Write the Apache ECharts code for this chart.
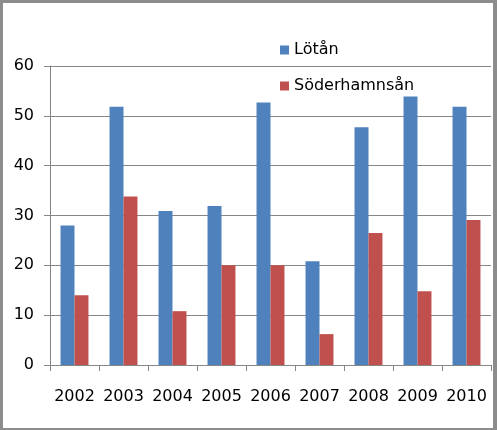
<!DOCTYPE html>
<html>
<head>
<meta charset="utf-8">
<script src="https://cdn.jsdelivr.net/npm/echarts@6/dist/echarts.min.js"></script>
<style>
  html, body { margin: 0; padding: 0; background: #fff; }
  #wrap { position: relative; width: 497px; height: 430px; }
  #chart { position: absolute; left: 0; top: 0; width: 497px; height: 430px; }
  #frame {
    position: absolute; left: 0; top: 0; width: 497px; height: 430px;
    box-sizing: border-box; pointer-events: none;
    border-style: solid; border-color: #8c8c8c;
    border-width: 3px 4px 2px 3px;
  }
</style>
</head>
<body>
<div id="wrap">
  <div id="chart"></div>
  <div id="frame"></div>
</div>
<script>
// år och värden
var years = ['2002', '2003', '2004', '2005', '2006', '2007', '2008', '2009', '2010'];
var lotan = [28, 51.8, 30.9, 31.9, 52.7, 20.8, 47.7, 53.9, 51.8];
var soderhamnsan = [14, 33.8, 10.8, 20, 20, 6.2, 26.5, 14.8, 29.1];
var seriesNames = ['Lötån', 'Söderhamnsån'];

var gray = '#868686';
var font = 'DejaVu Sans';

var myChart = echarts.init(document.getElementById('chart'));
var option = {
    animation: false,
    color: ['#4F81BD', '#C0504D'],
    grid: {
        left: 50,
        right: 6,
        top: 66,
        bottom: 65
    },
    legend: {
        data: seriesNames,
        orient: 'vertical',
        left: 280,
        top: 41,
        padding: 0,
        icon: 'rect',
        itemWidth: 9,
        itemHeight: 9,
        itemGap: 18,
        textStyle: {
            fontFamily: font,
            fontSize: 16,
            color: '#000',
            lineHeight: 18
        }
    },
    xAxis: {
        type: 'category',
        data: years,
        axisLine: { lineStyle: { color: gray, width: 1 } },
        axisTick: { show: true, length: 6, lineStyle: { color: gray } },
        axisLabel: {
            interval: 0,
            fontFamily: font,
            fontSize: 16,
            color: '#000',
            margin: 24
        }
    },
    yAxis: {
        type: 'value',
        min: 0,
        max: 60,
        interval: 10,
        axisLine: { show: true, lineStyle: { color: gray, width: 1 } },
        axisTick: { show: true, length: 6, lineStyle: { color: gray } },
        splitLine: { lineStyle: { color: gray, width: 1 } },
        axisLabel: {
            fontFamily: font,
            fontSize: 16,
            color: '#000',
            margin: 16
        }
    },
    series: [{
        name: seriesNames[0],
        type: 'bar',
        data: lotan,
        barGap: '0%',
        barCategoryGap: '43%'
    }, {
        name: seriesNames[1],
        type: 'bar',
        data: soderhamnsan,
        barGap: '0%',
        barCategoryGap: '43%'
    }]
};
myChart.setOption(option);
window.onresize = myChart.resize;
</script>
</body>
</html>
